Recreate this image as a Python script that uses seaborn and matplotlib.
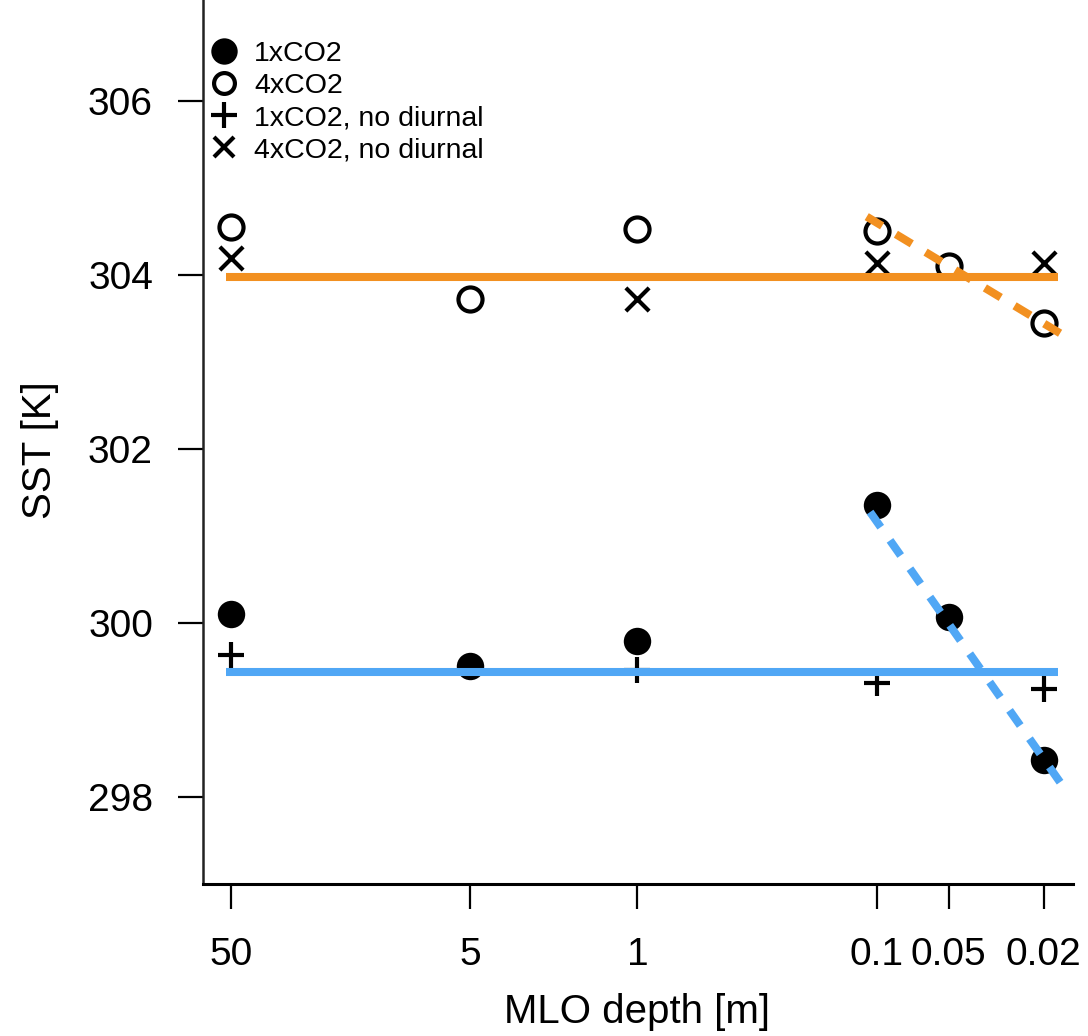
import numpy as np
import pandas as pd
import matplotlib
matplotlib.use("Agg")
import matplotlib.pyplot as plt
from matplotlib.lines import Line2D
import seaborn as sns

# ---- data ----
depth = [50, 5, 1, 0.1, 0.05, 0.02]
sst_1x = [300.10, 299.51, 299.79, 301.36, 300.07, 298.43]
sst_4x = [304.55, 303.72, 304.53, 304.51, 304.10, 303.45]
sst_1x_nodiurnal = [299.63, np.nan, 299.46, 299.31, np.nan, 299.24]
sst_4x_nodiurnal = [304.20, np.nan, 303.72, 304.14, np.nan, 304.14]

mean_x = [52.5, 0.0175]
mean_1x = [299.44, 299.44]
mean_4x = [303.98, 303.98]

fit_x = [0.11, 0.0171]
fit_1x = [301.33, 298.17]
fit_4x = [304.67, 303.33]

xticks = [50, 5, 1, 0.1, 0.05, 0.02]
xticklabels = ["50", "5", "1", "0.1", "0.05", "0.02"]
yticks = [298, 300, 302, 304, 306]

ORANGE = "#F29020"
BLUE = "#50A7F5"

sns.set_style("ticks")
plt.rcParams['font.family'] = ['Liberation Sans', 'DejaVu Sans']
plt.rcParams['text.color'] = 'black'
plt.rcParams['axes.labelcolor'] = 'black'
plt.rcParams['xtick.color'] = 'black'
plt.rcParams['ytick.color'] = 'black'

fig = plt.figure(figsize=(10.88, 10.36), dpi=100)
ax = fig.add_axes([203/1088, 1 - 884/1036, 870/1088, 884/1036])

df = pd.DataFrame({"depth": depth, "s1": sst_1x, "s4": sst_4x,
                   "n1": sst_1x_nodiurnal, "n4": sst_4x_nodiurnal})

sns.scatterplot(data=df, x="depth", y="s1", ax=ax, marker="o", s=390,
                color="black", edgecolor="black", linewidth=0, zorder=3)
sns.scatterplot(data=df, x="depth", y="s4", ax=ax, marker="o", s=300,
                facecolor="white", edgecolor="black", linewidth=3.0, zorder=3)
sns.scatterplot(data=df.dropna(subset=["n1"]), x="depth", y="n1", ax=ax, marker="+", s=330,
                color="black", linewidth=3.0, zorder=3)
sns.scatterplot(data=df.dropna(subset=["n4"]), x="depth", y="n4", ax=ax, marker="x", s=280,
                color="black", linewidth=3.0, zorder=3)

lw = 5.8
sns.lineplot(x=mean_x, y=mean_4x, ax=ax, color=ORANGE, linewidth=lw, zorder=4, solid_capstyle="butt")
sns.lineplot(x=mean_x, y=mean_1x, ax=ax, color=BLUE, linewidth=lw, zorder=4, solid_capstyle="butt")
sns.lineplot(x=fit_x, y=fit_4x, ax=ax, color=ORANGE, linewidth=lw, zorder=5,
             linestyle=(0, (2.3, 2.0)), dash_capstyle="butt")
sns.lineplot(x=fit_x, y=fit_1x, ax=ax, color=BLUE, linewidth=lw, zorder=5,
             linestyle=(0, (2.3, 2.0)), dash_capstyle="butt")

ax.set_xscale("log")
ax.set_xlim(65.5, 0.0151)
ax.set_ylim(297.0, 307.16)
ax.set_xticks(xticks)
ax.set_xticklabels(xticklabels)
ax.minorticks_off()
ax.set_yticks(yticks)
ax.set_yticklabels([str(t) for t in yticks])

ax.tick_params(axis="both", direction="out", length=18, width=1.6, labelsize=28,
               color="black", labelcolor="black")
ax.tick_params(axis="y", pad=18)
ax.tick_params(axis="x", pad=20)

for side in ["top", "right"]:
    ax.spines[side].set_visible(False)
ax.spines["left"].set_linewidth(1.8)
ax.spines["bottom"].set_linewidth(2.2)
ax.spines["left"].set_color("#222222")
ax.spines["bottom"].set_color("black")

ax.set_xlabel("MLO depth [m]", fontsize=29, color="black")
ax.set_ylabel("SST [K]", fontsize=29, color="black")
ax.xaxis.set_label_coords(0.499, -0.123)
ax.yaxis.set_label_coords(-0.166, 0.491)

handles = [
    Line2D([], [], linestyle="none", marker="o", markersize=19, color="black", markeredgewidth=0),
    Line2D([], [], linestyle="none", marker="o", markersize=15, markerfacecolor="white",
           markeredgecolor="black", markeredgewidth=3),
    Line2D([], [], linestyle="none", marker="+", markersize=19, color="black", markeredgewidth=3),
    Line2D([], [], linestyle="none", marker="x", markersize=15, color="black", markeredgewidth=3),
]
labels = ["1xCO2", "4xCO2", "1xCO2, no diurnal", "4xCO2, no diurnal"]
leg = ax.legend(handles, labels, loc="upper left", bbox_to_anchor=(-0.005, 0.967),
                frameon=False, fontsize=20.5, handlelength=1.0, handletextpad=0.55,
                labelspacing=0.22, borderaxespad=0.0)
for t in leg.get_texts():
    t.set_color("black")

fig.savefig("out.png", dpi=100)
